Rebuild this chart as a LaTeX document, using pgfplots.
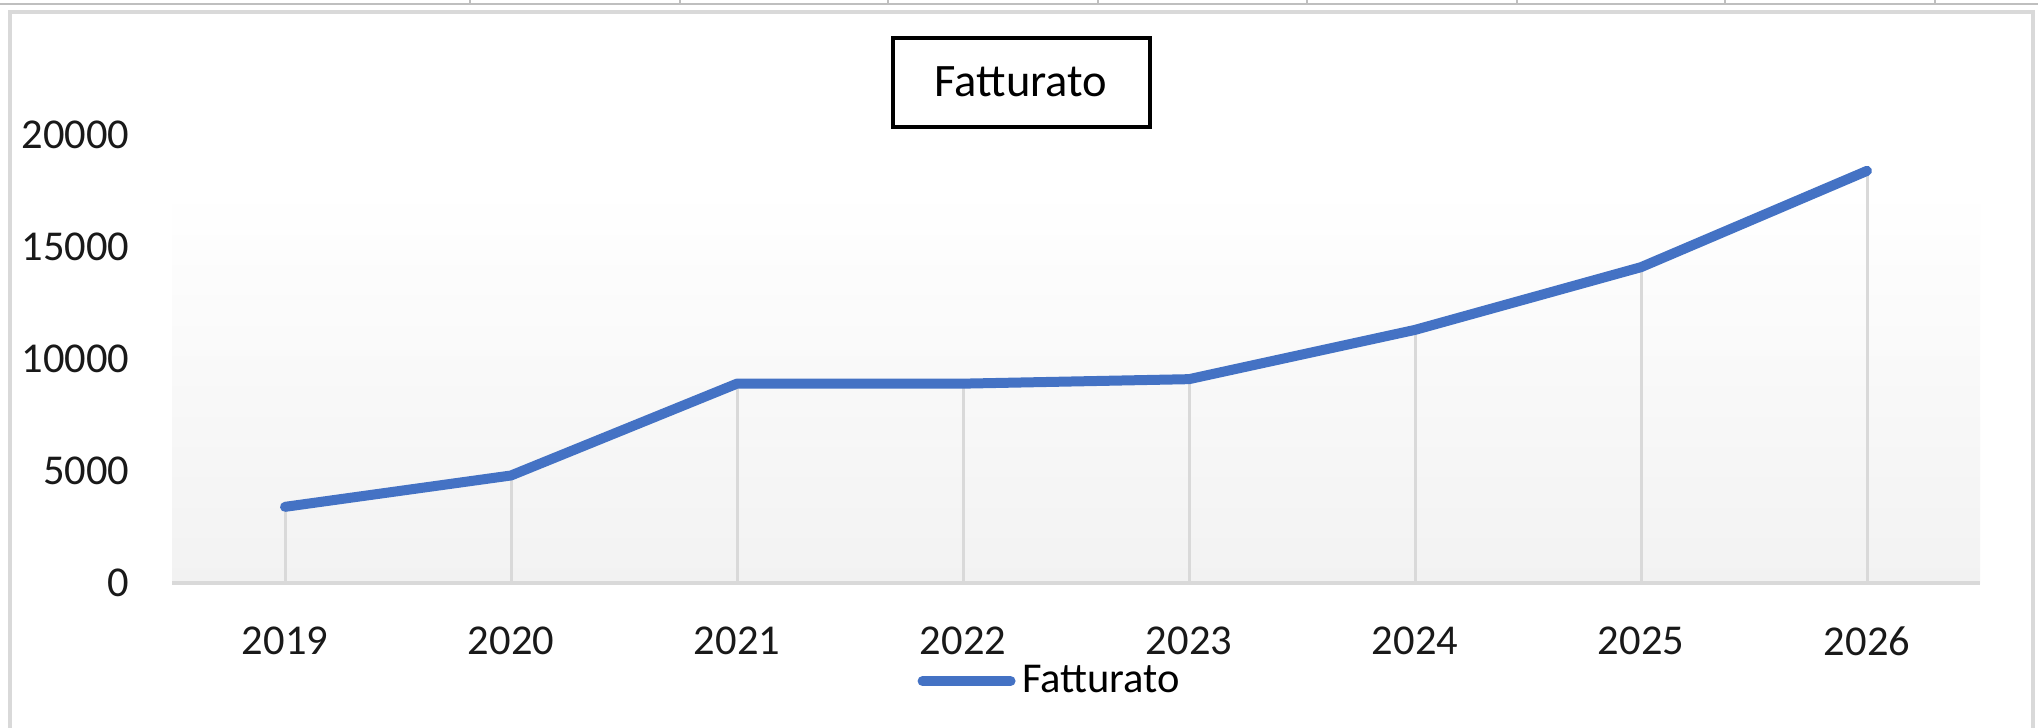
\documentclass[border=0pt]{standalone}
\usepackage{fontspec}
\setmainfont{Carlito}
\usepackage{pgfplots}
\pgfplotsset{compat=1.18}

\definecolor{serie}{HTML}{4472C4}
\definecolor{linea}{HTML}{D9D9D9}
\definecolor{fondo}{HTML}{F2F2F2}
\definecolor{foglio}{HTML}{BFBFBF}
% la parte centrale (25bp-75bp) della sfumatura copre lo sfondo del grafico
\pgfdeclareverticalshading{sfondo}{100bp}{color(0bp)=(fondo); color(25bp)=(fondo); color(69bp)=(white); color(100bp)=(white)}

\pgfplotstableread{
x anno valore
0 2019 3400
1 2020 4800
2 2021 8900
3 2022 8900
4 2023 9100
5 2024 11300
6 2025 14100
7 2026 18400
}\fatturato

\begin{document}
\begin{tikzpicture}
\path[use as bounding box] (0,0) rectangle (611.4bp,-218.4bp);

% griglia del foglio e cornice del grafico (1 px = 0.3bp)
\begin{scope}[x=0.3bp,y=-0.3bp]
\draw[foglio, line width=0.6bp] (0,4) -- (2038,4);
\foreach \gx in {470,680,888,1098,1307,1517,1725,1935}
  \draw[foglio, line width=0.6bp] (\gx,0) -- (\gx,5);
\fill[white] (10,12) rectangle (2033,740);
\draw[linea, line width=1.2bp] (10,740) -- (10,12) -- (2033,12) -- (2033,740);
\end{scope}

\begin{axis}[
  scale only axis,
  width=542.4bp, height=134.4bp,
  at={(51.6bp,-174.9bp)}, anchor=south west,
  xmin=-0.5, xmax=7.5,
  ymin=0, ymax=20000,
  xtick={0,...,7},
  xticklabels={2019,2020,2021,2022,2023,2024,2025,2026},
  ytick={0,5000,10000,15000,20000},
  scaled y ticks=false,
  /pgf/number format/fixed,
  /pgf/number format/precision=0,
  /pgf/number format/1000 sep={},
  /pgf/number format/assume math mode=true,
  major tick length=0pt,
  axis x line*=bottom, axis y line*=left,
  x axis line style={draw=linea, line width=1bp},
  y axis line style={draw=none},
  axis background/.style={shading=sfondo},
  ticklabel style={font=\fontsize{12.8}{14}\selectfont, text=black!90, inner sep=0pt},
  yticklabel style={anchor=east, xshift=-12.6bp},
  xticklabel style={anchor=north, yshift=-12.9bp},
  clip=false,
  legend style={at={(0.412,-0.219)}, anchor=west, draw=none, fill=none,
    inner sep=0pt, font=\fontsize{12.8}{14}\selectfont},
  legend image code/.code={\draw[#1] (0bp,0bp) -- (26.4bp,0bp);},
]
\addplot[ycomb, draw=linea, line width=0.9bp, forget plot] table[x=x, y=valore] {\fatturato};
\addplot[serie, line width=3bp, line cap=round, line join=round] table[x=x, y=valore] {\fatturato};
\addlegendentry{Fatturato}
\end{axis}

\node[draw=black, line width=1.2bp, minimum width=77.1bp, minimum height=26.7bp,
  inner sep=0pt, font=\fontsize{14}{16}\selectfont] at (306.3bp,-24.6bp) {Fatturato};
\end{tikzpicture}
\end{document}
